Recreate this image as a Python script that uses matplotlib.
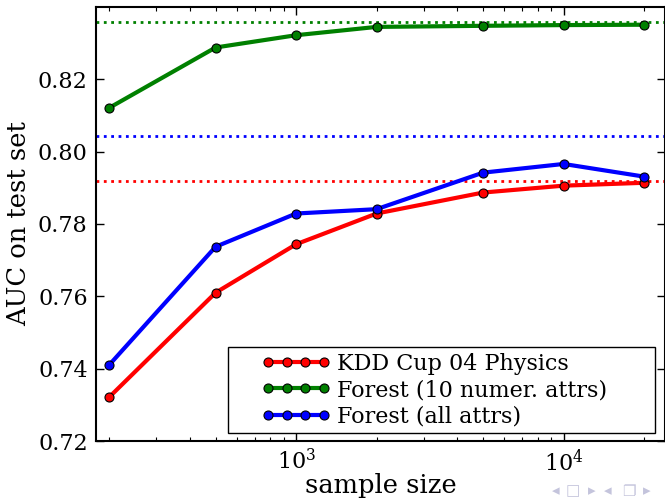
import numpy as np
import matplotlib
matplotlib.use("Agg")
import matplotlib.pyplot as plt
from matplotlib.legend_handler import HandlerLine2D

plt.rcParams['font.family'] = 'DejaVu Serif'
plt.rcParams['mathtext.fontset'] = 'dejavuserif'

sizes = [200, 500, 1000, 2000, 5000, 10000, 20000]
kdd = [0.7321, 0.7610, 0.7744, 0.7829, 0.7887, 0.7906, 0.7914]
forest10 = [0.8121, 0.8288, 0.8322, 0.8345, 0.8348, 0.8350, 0.8351]
forest_all = [0.7410, 0.7737, 0.7829, 0.7841, 0.7942, 0.7966, 0.7931]

# full-data AUC for each set (dotted reference lines)
kdd_full = 0.7920
forest10_full = 0.8359
forest_all_full = 0.8043

fig = plt.figure(figsize=(6.65, 4.99), dpi=100)
ax = fig.add_axes([96/665, 58/499, 569/665, 434/499])

ax.axhline(kdd_full, color='r', ls=':', lw=2)
ax.axhline(forest10_full, color='g', ls=':', lw=2)
ax.axhline(forest_all_full, color='b', ls=':', lw=2)

style = dict(lw=3, ms=6.5, mec='k', mew=0.8)
ax.plot(sizes, kdd, 'o-', color='r', label='KDD Cup 04 Physics', **style)
ax.plot(sizes, forest10, 'o-', color='g', label='Forest (10 numer. attrs)', **style)
ax.plot(sizes, forest_all, 'o-', color='b', label='Forest (all attrs)', **style)

ax.set_xscale('log')
ax.set_xlim(10**2.252, 10**4.379)
ax.set_ylim(0.72, 0.84)
ax.set_yticks([0.72, 0.74, 0.76, 0.78, 0.80, 0.82])
ax.set_yticklabels(['0.72', '0.74', '0.76', '0.78', '0.80', '0.82'])

ax.tick_params(which='both', direction='in', top=True, right=True,
               labelsize=16, pad=6)
ax.tick_params(which='major', length=6, width=1)
ax.tick_params(which='minor', length=3, width=0.8)
for s in ax.spines.values():
    s.set_linewidth(1.5)

ax.set_xlabel('sample size', fontsize=18.5, labelpad=-2)
ax.set_ylabel('AUC on test set', fontsize=18.5, labelpad=5)

# wide legend box, handles indented from the left edge
h = HandlerLine2D(numpoints=4, xpad=1.25)
leg = ax.legend(loc='lower left', mode='expand',
                bbox_to_anchor=(0.232, 0.0184, 0.750, 0.2),
                borderaxespad=0, fontsize=16, handlelength=4.38,
                handletextpad=0.28, labelspacing=0.2, borderpad=0.25,
                fancybox=False, framealpha=1,
                handler_map={l: h for l in ax.get_lines()[3:]})
leg.get_frame().set_edgecolor('k')
leg.get_frame().set_linewidth(1)

# beamer navigation symbols
nav = ['\u25c2', '\u25a1', '\u25b8', '\u25c2', '\u2750', '\u25b8']
nav_x = [556, 573, 592, 608, 629, 647]
for sym, xp in zip(nav, nav_x):
    fig.text(xp/665, 1 - 491/499, sym, color='#c4c4dc', fontsize=11,
             family='DejaVu Sans', ha='center', va='center')

fig.savefig('out.png', dpi=100)
